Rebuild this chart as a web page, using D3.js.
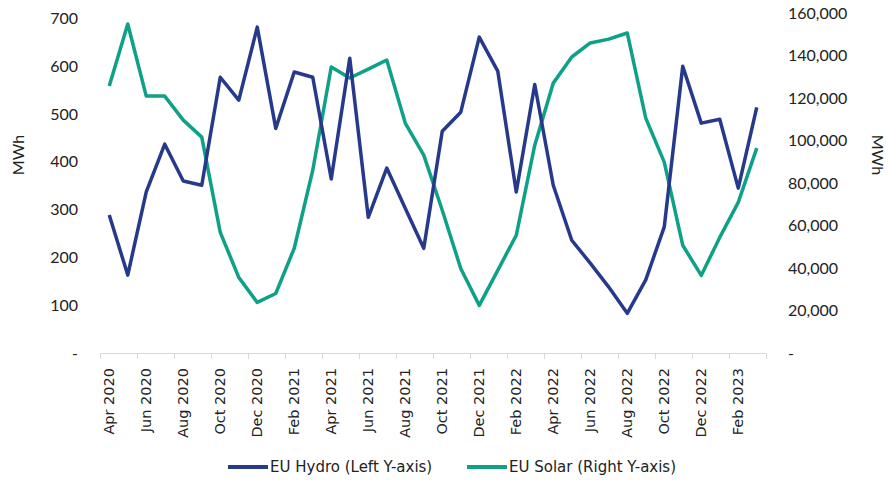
<!DOCTYPE html>
<html>
<head>
<meta charset="utf-8">
<script src="https://cdn.jsdelivr.net/npm/d3@7"></script>
<style>
  body { margin: 0; background: #fff; }
  svg { display: block; }
</style>
</head>
<body>
<svg id="chart" width="890" height="480"></svg>
<script>
const months = [
  "Apr 2020","May 2020","Jun 2020","Jul 2020","Aug 2020","Sep 2020","Oct 2020","Nov 2020","Dec 2020",
  "Jan 2021","Feb 2021","Mar 2021","Apr 2021","May 2021","Jun 2021","Jul 2021","Aug 2021","Sep 2021",
  "Oct 2021","Nov 2021","Dec 2021","Jan 2022","Feb 2022","Mar 2022","Apr 2022","May 2022","Jun 2022",
  "Jul 2022","Aug 2022","Sep 2022","Oct 2022","Nov 2022","Dec 2022","Jan 2023","Feb 2023","Mar 2023"
];
const hydro = [289,163,337,437,360,351,577,529,682,470,588,577,364,617,284,387,303,219,464,504,661,590,337,562,351,236,188,138,83,153,264,600,481,489,345,514];
const solar = [125600,154800,120900,120900,109600,101600,56800,35600,23800,28000,49300,86000,134600,129400,133600,137900,108200,93100,67200,39800,22400,38900,55400,97800,127000,139300,145900,147700,150600,110500,89800,50700,36500,54400,70900,96400];
const leftTicks = [0,100,200,300,400,500,600,700];
const rightTicks = [0,20000,40000,60000,80000,100000,120000,140000,160000];
const seriesNames = ["EU Hydro (Left Y-axis)", "EU Solar (Right Y-axis)"];
const colors = ["#27398a", "#0fa088"];

const svg = d3.select("#chart");
const x = d3.scaleBand().domain(months).range([100, 766]).padding(0);
const yL = d3.scaleLinear().domain([0, 700]).range([353, 18.5]);
const yR = d3.scaleLinear().domain([0, 160000]).range([353, 13]);
const numFont = "Lato, 'Liberation Sans', sans-serif";
const txtFont = "'DejaVu Sans', sans-serif";

// x axis line and ticks at every second boundary
svg.append("line").attr("x1", x.range()[0]).attr("x2", x.range()[1])
  .attr("y1", 353.5).attr("y2", 353.5).attr("stroke", "#d9d9d9").attr("stroke-width", 1);
const boundaries = months.filter((m, i) => i % 2 === 0).map(m => x(m)).concat([x.range()[1]]);
svg.selectAll(".xtick").data(boundaries).join("line")
  .attr("x1", d => Math.round(d) + 0.5).attr("x2", d => Math.round(d) + 0.5)
  .attr("y1", 353.5).attr("y2", 359).attr("stroke", "#d9d9d9");

// x labels
svg.selectAll(".xlab").data(months.filter((m, i) => i % 2 === 0)).join("text")
  .attr("transform", d => `translate(${x(d) + x.bandwidth() / 2 + 5},${368}) rotate(-90)`)
  .attr("text-anchor", "end")
  .attr("font-family", txtFont).attr("font-size", 14.5).attr("fill", "#222")
  .text(d => d);

// left axis labels
const fmtL = d => d === 0 ? "-" : d3.format(",")(d);
svg.selectAll(".ylab").data(leftTicks).join("text")
  .attr("x", 78).attr("y", d => yL(d)).attr("dy", "0.35em")
  .attr("text-anchor", "end").attr("font-family", numFont).attr("font-size", 16).attr("fill", "#222")
  .text(fmtL);
svg.selectAll(".yrlab").data(rightTicks).join("text")
  .attr("x", 788).attr("y", d => yR(d)).attr("dy", "0.35em")
  .attr("text-anchor", "start").attr("font-family", numFont).attr("font-size", 16).attr("fill", "#222")
  .text(d => d === 0 ? "-" : d3.format(",")(d));

// axis titles
svg.append("text").attr("transform", "translate(24,155) rotate(-90)")
  .attr("text-anchor", "middle").attr("font-family", numFont).attr("font-size", 16).attr("fill", "#222").text("MWh");
svg.append("text").attr("transform", "translate(872,155) rotate(90)")
  .attr("text-anchor", "middle").attr("font-family", numFont).attr("font-size", 16).attr("fill", "#222").text("MWh");

// lines
const cx = m => x(m) + x.bandwidth() / 2;
const lineL = d3.line().x((d, i) => cx(months[i])).y(d => yL(d));
const lineR = d3.line().x((d, i) => cx(months[i])).y(d => yR(d));
svg.append("path").datum(solar).attr("d", lineR).attr("fill", "none")
  .attr("stroke", colors[1]).attr("stroke-width", 3.5).attr("stroke-linejoin", "round");
svg.append("path").datum(hydro).attr("d", lineL).attr("fill", "none")
  .attr("stroke", colors[0]).attr("stroke-width", 3.5).attr("stroke-linejoin", "round");

// legend
const legX = [228, 467];
seriesNames.forEach((name, i) => {
  svg.append("line").attr("x1", legX[i]).attr("x2", legX[i] + 40)
    .attr("y1", 467).attr("y2", 467).attr("stroke", colors[i]).attr("stroke-width", 4);
  svg.append("text").attr("x", legX[i] + 42).attr("y", 467).attr("dy", "0.35em")
    .attr("font-family", txtFont).attr("font-size", 15).attr("fill", "#222").text(name);
});
</script>
</body>
</html>
